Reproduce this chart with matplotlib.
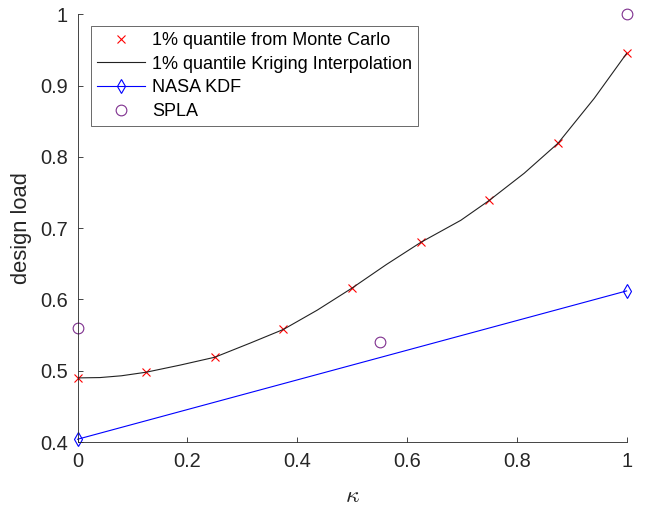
import numpy as np
import matplotlib.pyplot as plt

plt.rcParams['font.family'] = ['Liberation Sans', 'DejaVu Sans']
plt.rcParams['mathtext.fontset'] = 'cm'

# data
kappa_mc = [0, 0.125, 0.25, 0.375, 0.5, 0.625, 0.75, 0.875, 1.0]
load_mc = [0.490, 0.498, 0.519, 0.558, 0.616, 0.680, 0.739, 0.819, 0.945]

kappa_krig = [0, 0.041, 0.08, 0.125, 0.187, 0.25, 0.315, 0.375, 0.4365, 0.5,
              0.5625, 0.625, 0.698, 0.75, 0.8135, 0.875, 0.941, 1.0]
load_krig = [0.490, 0.4905, 0.493, 0.498, 0.508, 0.519, 0.539, 0.558, 0.585,
             0.616, 0.649, 0.680, 0.711, 0.739, 0.777, 0.819, 0.882, 0.945]

kappa_nasa = [0, 1.0]
load_nasa = [0.404, 0.612]

kappa_spla = [0, 0.55, 1.0]
load_spla = [0.560, 0.541, 1.0]

fig = plt.figure(figsize=(6.46, 5.07), dpi=100)
ax = fig.add_axes([0.12, 0.128, 0.850, 0.844])

ax.plot(kappa_mc, load_mc, 'x', color='r', markersize=6, mew=0.8,
        clip_on=False, label='1% quantile from Monte Carlo')
ax.plot(kappa_krig, load_krig, '-', color='#222222', lw=0.8,
        label='1% quantile Kriging Interpolation')
ax.plot(kappa_nasa, load_nasa, '-', color='b', lw=0.8, marker='d',
        markersize=7.6, mfc='none', mew=0.8, clip_on=False, label='NASA KDF')
ax.plot(kappa_spla, load_spla, 'o', color=(0.494, 0.184, 0.556), mfc='none',
        markersize=7.7, mew=0.8, clip_on=False, label='SPLA')

ax.set_xlim(0, 1)
ax.set_ylim(0.4, 1)
ax.set_xticks([0, 0.2, 0.4, 0.6, 0.8, 1])
ax.set_xticklabels(['0', '0.2', '0.4', '0.6', '0.8', '1'])
ax.set_yticks([0.4, 0.5, 0.6, 0.7, 0.8, 0.9, 1])
ax.set_yticklabels(['0.4', '0.5', '0.6', '0.7', '0.8', '0.9', '1'])
ax.tick_params(direction='in', length=3.6, width=0.6, labelsize=14.4,
               colors='#262626', pad=7)
for s in ['top', 'right']:
    ax.spines[s].set_visible(False)
for s in ['left', 'bottom']:
    ax.spines[s].set_color('#262626')
    ax.spines[s].set_linewidth(0.6)

ax.set_xlabel(r'$\kappa$', fontsize=17, color='#262626', labelpad=10)
ax.set_ylabel('design load', fontsize=15.8, color='#262626', labelpad=6)

leg = ax.legend(loc='upper left', bbox_to_anchor=(0.0246, 0.972),
                fontsize=13, frameon=True, fancybox=False, borderpad=0.33,
                handlelength=2.66, handletextpad=0.39, labelspacing=0.37,
                borderaxespad=0)
leg.get_frame().set_edgecolor('#262626')
leg.get_frame().set_linewidth(0.6)

fig.savefig('out.png', dpi=100)
